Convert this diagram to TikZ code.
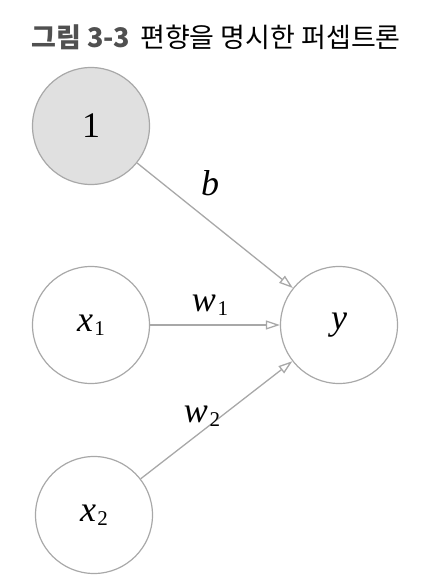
\documentclass[tikz,border=0pt]{standalone}
\usepackage{fontspec}
\setmainfont{Liberation Serif}
\newfontfamily\tm{Liberation Serif}
\newfontfamily\kr{Noto Sans CJK KR}
\usetikzlibrary{arrows.meta}
\definecolor{edgegray}{HTML}{A8A8A8}
\definecolor{fillgray}{HTML}{E0E0E0}
\definecolor{titlegray}{HTML}{505050}
\tikzset{
  neuron/.style={circle, draw=edgegray, line width=1.2pt, minimum size=117pt, inner sep=0pt, font=\tm\fontsize{36}{40}\selectfont},
  conn/.style={draw=edgegray, line width=1.3pt, -{Triangle[open, length=14pt, width=9pt]}},
  wlabel/.style={font=\tm\fontsize{36}{40}\selectfont, inner sep=0pt}
}
\newcommand{\sbs}[1]{\kern1.5pt\raisebox{-0.12em}{\fontsize{21}{24}\selectfont #1}}
\begin{document}
\begin{tikzpicture}[x=1pt,y=-1pt]
\useasboundingbox (0,0) rectangle (442,588);
\node[anchor=west, inner sep=0pt, font=\kr\fontsize{27}{30}\selectfont] (title) at (31,37) {\textcolor{titlegray}{\bfseries 그림 3-3}\hspace{10pt}편향을 명시한 퍼셉트론};
\node[neuron, fill=fillgray] (one) at (91,126) {1};
\node[neuron] (x1) at (91,325) {\textit{x}\sbs{1}};
\node[neuron] (x2) at (94,515) {\textit{x}\sbs{2}};
\node[neuron] (y) at (339,325) {\textit{y}};
\draw[conn] (one) -- (y);
\draw[conn] (x1) -- (y);
\draw[conn] (x2) -- (y);
\node[wlabel] (lb) at (210,183) {\textit{b}};
\node[wlabel] (lw1) at (210,305) {\textit{w}\sbs{1}};
\node[wlabel] (lw2) at (202,416) {\textit{w}\sbs{2}};
\end{tikzpicture}
\end{document}
